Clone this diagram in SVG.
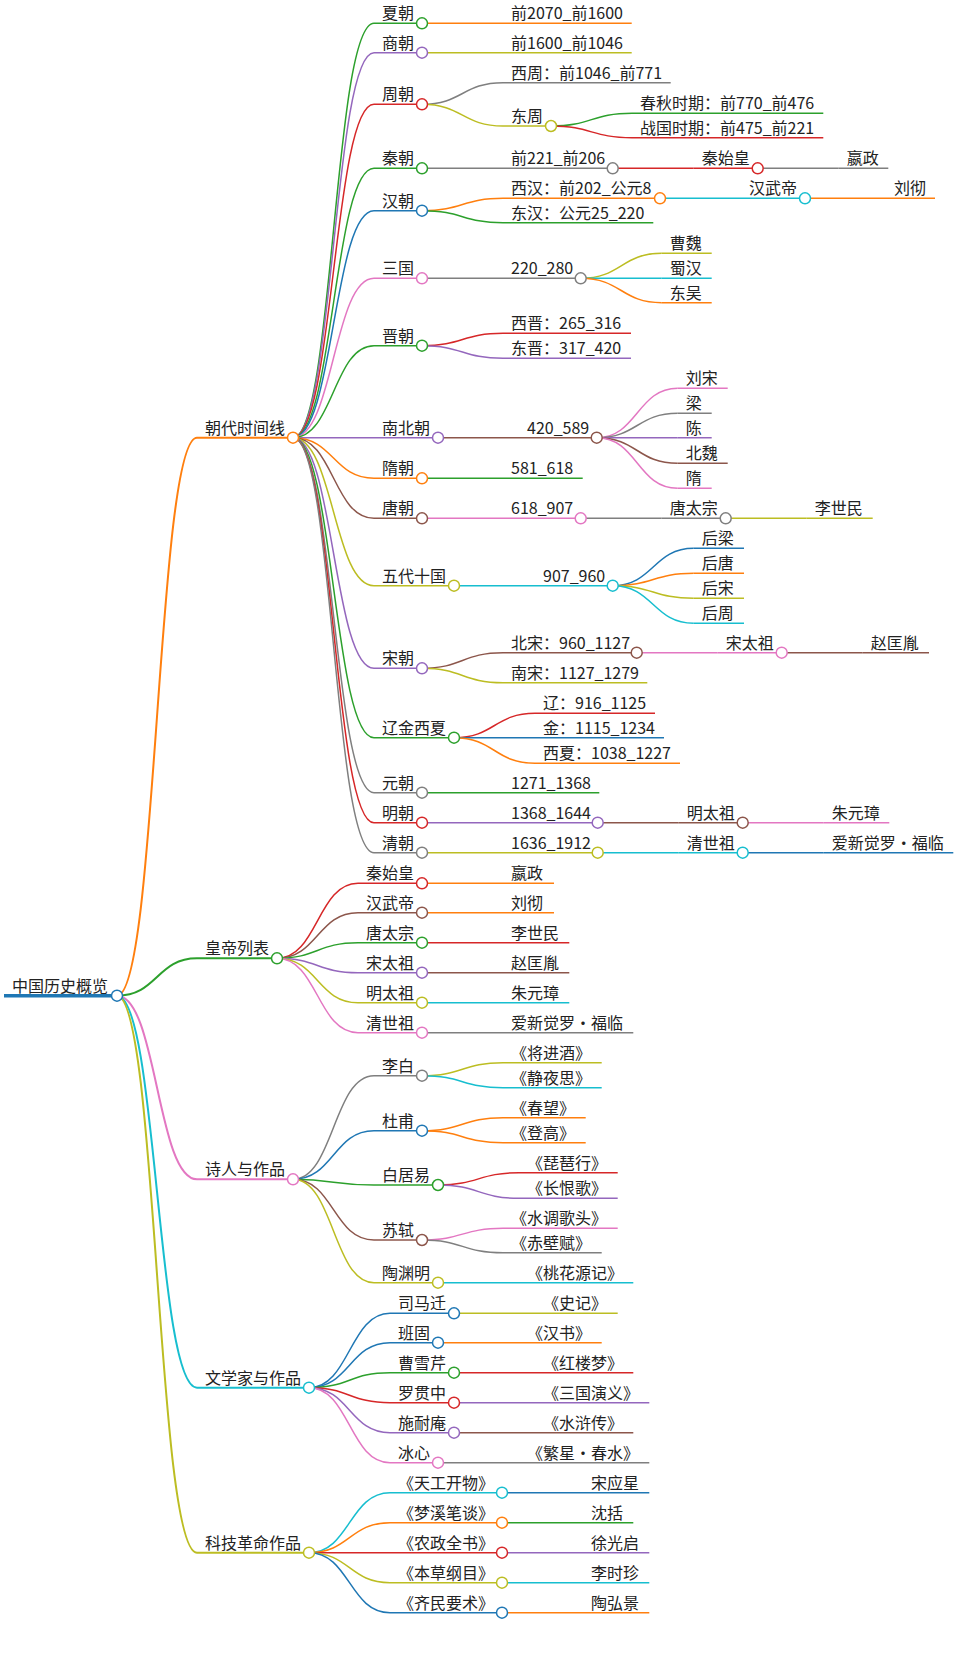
<svg xmlns="http://www.w3.org/2000/svg" width="960" height="1667" viewBox="0 0 960 1667">
<style>
path{fill:none;stroke-width:1.5}
circle{fill:#fff;stroke-width:1.5}
text{font-family:"Noto Sans CJK SC","Noto Sans",sans-serif;font-size:16px;fill:#222}
.w2{stroke-width:2}
.w3{stroke-width:3.5}
.b{stroke:#1f77b4}.o{stroke:#ff7f0e}.g{stroke:#2ca02c}.r{stroke:#d62728}.p{stroke:#9467bd}
.br{stroke:#8c564b}.pk{stroke:#e377c2}.gy{stroke:#7f7f7f}.ol{stroke:#bcbd22}.cy{stroke:#17becf}
</style>
<rect width="960" height="1667" fill="#fff"/>
<g id="connectors">
<path class="o w2" d="M117,995.7C157,995.7 157,437.7 197,437.7"/>
<path class="g w2" d="M117,995.7C157,995.7 157,958.3 197,958.3"/>
<path class="pk w2" d="M117,995.7C157,995.7 157,1179.3 197,1179.3"/>
<path class="cy w2" d="M117,995.7C157,995.7 157,1387.7 197,1387.7"/>
<path class="ol w2" d="M117,995.7C157,995.7 157,1552.7 197,1552.7"/>
<path class="g" d="M293,437.7C333.5,437.7 333.5,23.3 374,23.3"/>
<path class="p" d="M293,437.7C333.5,437.7 333.5,52.7 374,52.7"/>
<path class="r" d="M293,437.7C333.5,437.7 333.5,104.3 374,104.3"/>
<path class="g" d="M293,437.7C333.5,437.7 333.5,168.3 374,168.3"/>
<path class="b" d="M293,437.7C333.5,437.7 333.5,210.7 374,210.7"/>
<path class="pk" d="M293,437.7C333.5,437.7 333.5,278.3 374,278.3"/>
<path class="g" d="M293,437.7C333.5,437.7 333.5,345.7 374,345.7"/>
<path class="p" d="M293,437.7H374"/>
<path class="o" d="M293,437.7C333.5,437.7 333.5,478.3 374,478.3"/>
<path class="br" d="M293,437.7C333.5,437.7 333.5,518.3 374,518.3"/>
<path class="ol" d="M293,437.7C333.5,437.7 333.5,585.7 374,585.7"/>
<path class="p" d="M293,437.7C333.5,437.7 333.5,668.3 374,668.3"/>
<path class="g" d="M293,437.7C333.5,437.7 333.5,737.7 374,737.7"/>
<path class="gy" d="M293,437.7C333.5,437.7 333.5,792.7 374,792.7"/>
<path class="r" d="M293,437.7C333.5,437.7 333.5,822.7 374,822.7"/>
<path class="gy" d="M293,437.7C333.5,437.7 333.5,852.7 374,852.7"/>
<path class="o" d="M422,23.3H503"/>
<path class="ol" d="M422,52.7H503"/>
<path class="gy" d="M422,104.3C462.5,104.3 462.5,82.7 503,82.7"/>
<path class="ol" d="M422,104.3C462.5,104.3 462.5,126 503,126"/>
<path class="g" d="M551,126C591.5,126 591.5,113.3 632,113.3"/>
<path class="r" d="M551,126C591.5,126 591.5,137.7 632,137.7"/>
<path class="gy" d="M422,168.3H503"/>
<path class="r" d="M612.7,168.3H693.7"/>
<path class="gy" d="M757.7,168.3H838.7"/>
<path class="o" d="M422,210.7C462.5,210.7 462.5,198.3 503,198.3"/>
<path class="g" d="M422,210.7C462.5,210.7 462.5,222.7 503,222.7"/>
<path class="cy" d="M660,198.3H741"/>
<path class="o" d="M805,198.3H886"/>
<path class="gy" d="M422,278.3H503"/>
<path class="ol" d="M580.7,278.3C621.2,278.3 621.2,253.3 661.7,253.3"/>
<path class="cy" d="M580.7,278.3H661.7"/>
<path class="o" d="M580.7,278.3C621.2,278.3 621.2,302.7 661.7,302.7"/>
<path class="r" d="M422,345.7C462.5,345.7 462.5,333.3 503,333.3"/>
<path class="p" d="M422,345.7C462.5,345.7 462.5,358.3 503,358.3"/>
<path class="br" d="M438,437.7H519"/>
<path class="pk" d="M596.7,437.7C637.2,437.7 637.2,388.3 677.7,388.3"/>
<path class="gy" d="M596.7,437.7C637.2,437.7 637.2,413.3 677.7,413.3"/>
<path class="p" d="M596.7,437.7H677.7"/>
<path class="br" d="M596.7,437.7C637.2,437.7 637.2,463.3 677.7,463.3"/>
<path class="pk" d="M596.7,437.7C637.2,437.7 637.2,488.3 677.7,488.3"/>
<path class="g" d="M422,478.3H503"/>
<path class="pk" d="M422,518.3H503"/>
<path class="gy" d="M580.7,518.3H661.7"/>
<path class="ol" d="M725.7,518.3H806.7"/>
<path class="cy" d="M454,585.7H535"/>
<path class="b" d="M612.7,585.7C653.2,585.7 653.2,548.3 693.7,548.3"/>
<path class="o" d="M612.7,585.7C653.2,585.7 653.2,573.3 693.7,573.3"/>
<path class="ol" d="M612.7,585.7C653.2,585.7 653.2,598.3 693.7,598.3"/>
<path class="cy" d="M612.7,585.7C653.2,585.7 653.2,623.3 693.7,623.3"/>
<path class="br" d="M422,668.3C462.5,668.3 462.5,652.7 503,652.7"/>
<path class="ol" d="M422,668.3C462.5,668.3 462.5,682.7 503,682.7"/>
<path class="pk" d="M636.7,652.7H717.7"/>
<path class="br" d="M781.7,652.7H862.7"/>
<path class="r" d="M454,737.7C494.5,737.7 494.5,713.3 535,713.3"/>
<path class="b" d="M454,737.7H535"/>
<path class="o" d="M454,737.7C494.5,737.7 494.5,763.3 535,763.3"/>
<path class="g" d="M422,792.7H503"/>
<path class="p" d="M422,822.7H503"/>
<path class="br" d="M597.7,822.7H678.7"/>
<path class="pk" d="M742.7,822.7H823.7"/>
<path class="ol" d="M422,852.7H503"/>
<path class="cy" d="M597.7,852.7H678.7"/>
<path class="b" d="M742.7,852.7H823.7"/>
<path class="r" d="M277,958.3C317.5,958.3 317.5,883.3 358,883.3"/>
<path class="br" d="M277,958.3C317.5,958.3 317.5,912.7 358,912.7"/>
<path class="g" d="M277,958.3C317.5,958.3 317.5,942.7 358,942.7"/>
<path class="p" d="M277,958.3C317.5,958.3 317.5,972.7 358,972.7"/>
<path class="ol" d="M277,958.3C317.5,958.3 317.5,1002.7 358,1002.7"/>
<path class="pk" d="M277,958.3C317.5,958.3 317.5,1032.7 358,1032.7"/>
<path class="o" d="M422,883.3H503"/>
<path class="o" d="M422,912.7H503"/>
<path class="r" d="M422,942.7H503"/>
<path class="br" d="M422,972.7H503"/>
<path class="cy" d="M422,1002.7H503"/>
<path class="gy" d="M422,1032.7H503"/>
<path class="gy" d="M293,1179.3C333.5,1179.3 333.5,1075.7 374,1075.7"/>
<path class="b" d="M293,1179.3C333.5,1179.3 333.5,1130.7 374,1130.7"/>
<path class="g" d="M293,1179.3C333.5,1179.3 333.5,1185 374,1185"/>
<path class="br" d="M293,1179.3C333.5,1179.3 333.5,1240 374,1240"/>
<path class="ol" d="M293,1179.3C333.5,1179.3 333.5,1282.7 374,1282.7"/>
<path class="ol" d="M422,1075.7C462.5,1075.7 462.5,1062.7 503,1062.7"/>
<path class="cy" d="M422,1075.7C462.5,1075.7 462.5,1087.7 503,1087.7"/>
<path class="o" d="M422,1130.7C462.5,1130.7 462.5,1117.7 503,1117.7"/>
<path class="o" d="M422,1130.7C462.5,1130.7 462.5,1142.7 503,1142.7"/>
<path class="r" d="M438,1185C478.5,1185 478.5,1172.7 519,1172.7"/>
<path class="p" d="M438,1185C478.5,1185 478.5,1198.3 519,1198.3"/>
<path class="pk" d="M422,1240C462.5,1240 462.5,1228.3 503,1228.3"/>
<path class="gy" d="M422,1240C462.5,1240 462.5,1252.7 503,1252.7"/>
<path class="cy" d="M438,1282.7H519"/>
<path class="b" d="M309,1387.7C349.5,1387.7 349.5,1313.3 390,1313.3"/>
<path class="b" d="M309,1387.7C349.5,1387.7 349.5,1342.7 390,1342.7"/>
<path class="g" d="M309,1387.7C349.5,1387.7 349.5,1372.7 390,1372.7"/>
<path class="r" d="M309,1387.7C349.5,1387.7 349.5,1402.7 390,1402.7"/>
<path class="p" d="M309,1387.7C349.5,1387.7 349.5,1432.7 390,1432.7"/>
<path class="pk" d="M309,1387.7C349.5,1387.7 349.5,1462.7 390,1462.7"/>
<path class="ol" d="M454,1313.3H535"/>
<path class="o" d="M438,1342.7H519"/>
<path class="r" d="M454,1372.7H535"/>
<path class="p" d="M454,1402.7H535"/>
<path class="br" d="M454,1432.7H535"/>
<path class="gy" d="M438,1462.7H519"/>
<path class="cy" d="M309,1552.7C349.5,1552.7 349.5,1492.7 390,1492.7"/>
<path class="o" d="M309,1552.7C349.5,1552.7 349.5,1522.7 390,1522.7"/>
<path class="r" d="M309,1552.7H390"/>
<path class="ol" d="M309,1552.7C349.5,1552.7 349.5,1582.7 390,1582.7"/>
<path class="b" d="M309,1552.7C349.5,1552.7 349.5,1612.7 390,1612.7"/>
<path class="b" d="M502,1492.7H583"/>
<path class="g" d="M502,1522.7H583"/>
<path class="p" d="M502,1552.7H583"/>
<path class="cy" d="M502,1582.7H583"/>
<path class="o" d="M502,1612.7H583"/>
</g>

<g id="root"><path class="b w3" d="M4,995.7H117"/><circle class="b" cx="117" cy="995.7" r="5.5"/><text x="12" y="991.5">中国历史概览</text></g>

<g id="n-chaodai"><path class="o w2" d="M197,437.7H293"/><circle class="o" cx="293" cy="437.7" r="5.5"/><text x="205" y="433.7">朝代时间线</text></g>
<g id="n-huangdi"><path class="g w2" d="M197,958.3H277"/><circle class="g" cx="277" cy="958.3" r="5.5"/><text x="205" y="954.3">皇帝列表</text></g>
<g id="n-shiren"><path class="pk w2" d="M197,1179.3H293"/><circle class="pk" cx="293" cy="1179.3" r="5.5"/><text x="205" y="1175.3">诗人与作品</text></g>
<g id="n-wenxue"><path class="cy w2" d="M197,1387.7H309"/><circle class="cy" cx="309" cy="1387.7" r="5.5"/><text x="205" y="1383.7">文学家与作品</text></g>
<g id="n-keji"><path class="ol w2" d="M197,1552.7H309"/><circle class="ol" cx="309" cy="1552.7" r="5.5"/><text x="205" y="1548.7">科技革命作品</text></g>

<g id="n-xia"><path class="g" d="M374,23.3H422"/><circle class="g" cx="422" cy="23.3" r="5.5"/><text x="382" y="19.3">夏朝</text></g>
<g id="n-xia-1"><path class="o" d="M503,23.3H631.7"/><text x="511" y="19.3">前2070_前1600</text></g>
<g id="n-shang"><path class="p" d="M374,52.7H422"/><circle class="p" cx="422" cy="52.7" r="5.5"/><text x="382" y="48.7">商朝</text></g>
<g id="n-shang-1"><path class="ol" d="M503,52.7H631.7"/><text x="511" y="48.7">前1600_前1046</text></g>
<g id="n-zhou"><path class="r" d="M374,104.3H422"/><circle class="r" cx="422" cy="104.3" r="5.5"/><text x="382" y="100.3">周朝</text></g>
<g id="n-xizhou"><path class="gy" d="M503,82.7H670.7"/><text x="511" y="78.7">西周：前1046_前771</text></g>
<g id="n-dongzhou"><path class="ol" d="M503,126H551"/><circle class="ol" cx="551" cy="126" r="5.5"/><text x="511" y="122">东周</text></g>
<g id="n-chunqiu"><path class="g" d="M632,113.3H823.3"/><text x="640" y="109.3">春秋时期：前770_前476</text></g>
<g id="n-zhanguo"><path class="r" d="M632,137.7H823.3"/><text x="640" y="133.7">战国时期：前475_前221</text></g>
<g id="n-qin"><path class="g" d="M374,168.3H422"/><circle class="g" cx="422" cy="168.3" r="5.5"/><text x="382" y="164.3">秦朝</text></g>
<g id="n-qin-1"><path class="gy" d="M503,168.3H612.7"/><circle class="gy" cx="612.7" cy="168.3" r="5.5"/><text x="511" y="164.3">前221_前206</text></g>
<g id="n-qin-2"><path class="r" d="M693.7,168.3H757.7"/><circle class="r" cx="757.7" cy="168.3" r="5.5"/><text x="701.7" y="164.3">秦始皇</text></g>
<g id="n-qin-3"><path class="gy" d="M838.7,168.3H888.3"/><text x="846.7" y="164.3">嬴政</text></g>
<g id="n-han"><path class="b" d="M374,210.7H422"/><circle class="b" cx="422" cy="210.7" r="5.5"/><text x="382" y="206.7">汉朝</text></g>
<g id="n-xihan"><path class="o" d="M503,198.3H660"/><circle class="o" cx="660" cy="198.3" r="5.5"/><text x="511" y="194.3">西汉：前202_公元8</text></g>
<g id="n-han-2"><path class="cy" d="M741,198.3H805"/><circle class="cy" cx="805" cy="198.3" r="5.5"/><text x="749" y="194.3">汉武帝</text></g>
<g id="n-han-3"><path class="o" d="M886,198.3H935"/><text x="894" y="194.3">刘彻</text></g>
<g id="n-donghan"><path class="g" d="M503,222.7H653.3"/><text x="511" y="218.7">东汉：公元25_220</text></g>
<g id="n-sanguo"><path class="pk" d="M374,278.3H422"/><circle class="pk" cx="422" cy="278.3" r="5.5"/><text x="382" y="274.3">三国</text></g>
<g id="n-sanguo-1"><path class="gy" d="M503,278.3H580.7"/><circle class="gy" cx="580.7" cy="278.3" r="5.5"/><text x="511" y="274.3">220_280</text></g>
<g id="n-caowei"><path class="ol" d="M661.7,253.3H711.7"/><text x="669.7" y="249.3">曹魏</text></g>
<g id="n-shuhan"><path class="cy" d="M661.7,278.3H711.7"/><text x="669.7" y="274.3">蜀汉</text></g>
<g id="n-dongwu"><path class="o" d="M661.7,302.7H711.7"/><text x="669.7" y="298.7">东吴</text></g>
<g id="n-jin"><path class="g" d="M374,345.7H422"/><circle class="g" cx="422" cy="345.7" r="5.5"/><text x="382" y="341.7">晋朝</text></g>
<g id="n-xijin"><path class="r" d="M503,333.3H631"/><text x="511" y="329.3">西晋：265_316</text></g>
<g id="n-dongjin"><path class="p" d="M503,358.3H631"/><text x="511" y="354.3">东晋：317_420</text></g>
<g id="n-nanbei"><path class="p" d="M374,437.7H438"/><circle class="p" cx="438" cy="437.7" r="5.5"/><text x="382" y="433.7">南北朝</text></g>
<g id="n-nanbei-1"><path class="br" d="M519,437.7H596.7"/><circle class="br" cx="596.7" cy="437.7" r="5.5"/><text x="527" y="433.7">420_589</text></g>
<g id="n-liusong"><path class="pk" d="M677.7,388.3H727.7"/><text x="685.7" y="384.3">刘宋</text></g>
<g id="n-liang"><path class="gy" d="M677.7,413.3H711.7"/><text x="685.7" y="409.3">梁</text></g>
<g id="n-chen"><path class="p" d="M677.7,437.7H711.7"/><text x="685.7" y="433.7">陈</text></g>
<g id="n-beiwei"><path class="br" d="M677.7,463.3H727.7"/><text x="685.7" y="459.3">北魏</text></g>
<g id="n-sui2"><path class="pk" d="M677.7,488.3H711.7"/><text x="685.7" y="484.3">隋</text></g>
<g id="n-sui"><path class="o" d="M374,478.3H422"/><circle class="o" cx="422" cy="478.3" r="5.5"/><text x="382" y="474.3">隋朝</text></g>
<g id="n-sui-1"><path class="g" d="M503,478.3H582.7"/><text x="511" y="474.3">581_618</text></g>
<g id="n-tang"><path class="br" d="M374,518.3H422"/><circle class="br" cx="422" cy="518.3" r="5.5"/><text x="382" y="514.3">唐朝</text></g>
<g id="n-tang-1"><path class="pk" d="M503,518.3H580.7"/><circle class="pk" cx="580.7" cy="518.3" r="5.5"/><text x="511" y="514.3">618_907</text></g>
<g id="n-tang-2"><path class="gy" d="M661.7,518.3H725.7"/><circle class="gy" cx="725.7" cy="518.3" r="5.5"/><text x="669.7" y="514.3">唐太宗</text></g>
<g id="n-tang-3"><path class="ol" d="M806.7,518.3H872.7"/><text x="814.7" y="514.3">李世民</text></g>
<g id="n-wudai"><path class="ol" d="M374,585.7H454"/><circle class="ol" cx="454" cy="585.7" r="5.5"/><text x="382" y="581.7">五代十国</text></g>
<g id="n-wudai-1"><path class="cy" d="M535,585.7H612.7"/><circle class="cy" cx="612.7" cy="585.7" r="5.5"/><text x="543" y="581.7">907_960</text></g>
<g id="n-houliang"><path class="b" d="M693.7,548.3H744"/><text x="701.7" y="544.3">后梁</text></g>
<g id="n-houtang"><path class="o" d="M693.7,573.3H744"/><text x="701.7" y="569.3">后唐</text></g>
<g id="n-housong"><path class="ol" d="M693.7,598.3H744"/><text x="701.7" y="594.3">后宋</text></g>
<g id="n-houzhou"><path class="cy" d="M693.7,623.3H744"/><text x="701.7" y="619.3">后周</text></g>
<g id="n-song"><path class="p" d="M374,668.3H422"/><circle class="p" cx="422" cy="668.3" r="5.5"/><text x="382" y="664.3">宋朝</text></g>
<g id="n-beisong"><path class="br" d="M503,652.7H636.7"/><circle class="br" cx="636.7" cy="652.7" r="5.5"/><text x="511" y="648.7">北宋：960_1127</text></g>
<g id="n-song-2"><path class="pk" d="M717.7,652.7H781.7"/><circle class="pk" cx="781.7" cy="652.7" r="5.5"/><text x="725.7" y="648.7">宋太祖</text></g>
<g id="n-song-3"><path class="br" d="M862.7,652.7H929"/><text x="870.7" y="648.7">赵匡胤</text></g>
<g id="n-nansong"><path class="ol" d="M503,682.7H647.3"/><text x="511" y="678.7">南宋：1127_1279</text></g>
<g id="n-liaojin"><path class="g" d="M374,737.7H454"/><circle class="g" cx="454" cy="737.7" r="5.5"/><text x="382" y="733.7">辽金西夏</text></g>
<g id="n-liao"><path class="r" d="M535,713.3H655"/><text x="543" y="709.3">辽：916_1125</text></g>
<g id="n-jin2"><path class="b" d="M535,737.7H664"/><text x="543" y="733.7">金：1115_1234</text></g>
<g id="n-xixia"><path class="o" d="M535,763.3H680"/><text x="543" y="759.3">西夏：1038_1227</text></g>
<g id="n-yuan"><path class="gy" d="M374,792.7H422"/><circle class="gy" cx="422" cy="792.7" r="5.5"/><text x="382" y="788.7">元朝</text></g>
<g id="n-yuan-1"><path class="g" d="M503,792.7H599.3"/><text x="511" y="788.7">1271_1368</text></g>
<g id="n-ming"><path class="r" d="M374,822.7H422"/><circle class="r" cx="422" cy="822.7" r="5.5"/><text x="382" y="818.7">明朝</text></g>
<g id="n-ming-1"><path class="p" d="M503,822.7H597.7"/><circle class="p" cx="597.7" cy="822.7" r="5.5"/><text x="511" y="818.7">1368_1644</text></g>
<g id="n-ming-2"><path class="br" d="M678.7,822.7H742.7"/><circle class="br" cx="742.7" cy="822.7" r="5.5"/><text x="686.7" y="818.7">明太祖</text></g>
<g id="n-ming-3"><path class="pk" d="M823.7,822.7H889.3"/><text x="831.7" y="818.7">朱元璋</text></g>
<g id="n-qing"><path class="gy" d="M374,852.7H422"/><circle class="gy" cx="422" cy="852.7" r="5.5"/><text x="382" y="848.7">清朝</text></g>
<g id="n-qing-1"><path class="ol" d="M503,852.7H597.7"/><circle class="ol" cx="597.7" cy="852.7" r="5.5"/><text x="511" y="848.7">1636_1912</text></g>
<g id="n-qing-2"><path class="cy" d="M678.7,852.7H742.7"/><circle class="cy" cx="742.7" cy="852.7" r="5.5"/><text x="686.7" y="848.7">清世祖</text></g>
<g id="n-qing-3"><path class="b" d="M823.7,852.7H953.3"/><text x="831.7" y="848.7">爱新觉罗・福临</text></g>

<g id="e-qsh"><path class="r" d="M358,883.3H422"/><circle class="r" cx="422" cy="883.3" r="5.5"/><text x="366" y="879.3">秦始皇</text></g>
<g id="e-qsh-1"><path class="o" d="M503,883.3H554"/><text x="511" y="879.3">嬴政</text></g>
<g id="e-hwd"><path class="br" d="M358,912.7H422"/><circle class="br" cx="422" cy="912.7" r="5.5"/><text x="366" y="908.7">汉武帝</text></g>
<g id="e-hwd-1"><path class="o" d="M503,912.7H554"/><text x="511" y="908.7">刘彻</text></g>
<g id="e-tt"><path class="g" d="M358,942.7H422"/><circle class="g" cx="422" cy="942.7" r="5.5"/><text x="366" y="938.7">唐太宗</text></g>
<g id="e-tt-1"><path class="r" d="M503,942.7H569.3"/><text x="511" y="938.7">李世民</text></g>
<g id="e-st"><path class="p" d="M358,972.7H422"/><circle class="p" cx="422" cy="972.7" r="5.5"/><text x="366" y="968.7">宋太祖</text></g>
<g id="e-st-1"><path class="br" d="M503,972.7H569.3"/><text x="511" y="968.7">赵匡胤</text></g>
<g id="e-mt"><path class="ol" d="M358,1002.7H422"/><circle class="ol" cx="422" cy="1002.7" r="5.5"/><text x="366" y="998.7">明太祖</text></g>
<g id="e-mt-1"><path class="cy" d="M503,1002.7H569.3"/><text x="511" y="998.7">朱元璋</text></g>
<g id="e-qs"><path class="pk" d="M358,1032.7H422"/><circle class="pk" cx="422" cy="1032.7" r="5.5"/><text x="366" y="1028.7">清世祖</text></g>
<g id="e-qs-1"><path class="gy" d="M503,1032.7H633.3"/><text x="511" y="1028.7">爱新觉罗・福临</text></g>

<g id="p-libai"><path class="gy" d="M374,1075.7H422"/><circle class="gy" cx="422" cy="1075.7" r="5.5"/><text x="382" y="1071.7">李白</text></g>
<g id="p-libai-1"><path class="ol" d="M503,1062.7H601.7"/><text x="511" y="1058.7">《将进酒》</text></g>
<g id="p-libai-2"><path class="cy" d="M503,1087.7H601.7"/><text x="511" y="1083.7">《静夜思》</text></g>
<g id="p-dufu"><path class="b" d="M374,1130.7H422"/><circle class="b" cx="422" cy="1130.7" r="5.5"/><text x="382" y="1126.7">杜甫</text></g>
<g id="p-dufu-1"><path class="o" d="M503,1117.7H585.7"/><text x="511" y="1113.7">《春望》</text></g>
<g id="p-dufu-2"><path class="o" d="M503,1142.7H585.7"/><text x="511" y="1138.7">《登高》</text></g>
<g id="p-bai"><path class="g" d="M374,1185H438"/><circle class="g" cx="438" cy="1185" r="5.5"/><text x="382" y="1181">白居易</text></g>
<g id="p-bai-1"><path class="r" d="M519,1172.7H617.7"/><text x="527" y="1168.7">《琵琶行》</text></g>
<g id="p-bai-2"><path class="p" d="M519,1198.3H617.7"/><text x="527" y="1194.3">《长恨歌》</text></g>
<g id="p-su"><path class="br" d="M374,1240H422"/><circle class="br" cx="422" cy="1240" r="5.5"/><text x="382" y="1236">苏轼</text></g>
<g id="p-su-1"><path class="pk" d="M503,1228.3H617.7"/><text x="511" y="1224.3">《水调歌头》</text></g>
<g id="p-su-2"><path class="gy" d="M503,1252.7H601.7"/><text x="511" y="1248.7">《赤壁赋》</text></g>
<g id="p-tao"><path class="ol" d="M374,1282.7H438"/><circle class="ol" cx="438" cy="1282.7" r="5.5"/><text x="382" y="1278.7">陶渊明</text></g>
<g id="p-tao-1"><path class="cy" d="M519,1282.7H633.3"/><text x="527" y="1278.7">《桃花源记》</text></g>

<g id="w-sima"><path class="b" d="M390,1313.3H454"/><circle class="b" cx="454" cy="1313.3" r="5.5"/><text x="398" y="1309.3">司马迁</text></g>
<g id="w-sima-1"><path class="ol" d="M535,1313.3H617.7"/><text x="543" y="1309.3">《史记》</text></g>
<g id="w-ban"><path class="b" d="M390,1342.7H438"/><circle class="b" cx="438" cy="1342.7" r="5.5"/><text x="398" y="1338.7">班固</text></g>
<g id="w-ban-1"><path class="o" d="M519,1342.7H601.7"/><text x="527" y="1338.7">《汉书》</text></g>
<g id="w-cao"><path class="g" d="M390,1372.7H454"/><circle class="g" cx="454" cy="1372.7" r="5.5"/><text x="398" y="1368.7">曹雪芹</text></g>
<g id="w-cao-1"><path class="r" d="M535,1372.7H633.3"/><text x="543" y="1368.7">《红楼梦》</text></g>
<g id="w-luo"><path class="r" d="M390,1402.7H454"/><circle class="r" cx="454" cy="1402.7" r="5.5"/><text x="398" y="1398.7">罗贯中</text></g>
<g id="w-luo-1"><path class="p" d="M535,1402.7H649.3"/><text x="543" y="1398.7">《三国演义》</text></g>
<g id="w-shi"><path class="p" d="M390,1432.7H454"/><circle class="p" cx="454" cy="1432.7" r="5.5"/><text x="398" y="1428.7">施耐庵</text></g>
<g id="w-shi-1"><path class="br" d="M535,1432.7H633.3"/><text x="543" y="1428.7">《水浒传》</text></g>
<g id="w-bing"><path class="pk" d="M390,1462.7H438"/><circle class="pk" cx="438" cy="1462.7" r="5.5"/><text x="398" y="1458.7">冰心</text></g>
<g id="w-bing-1"><path class="gy" d="M519,1462.7H649.3"/><text x="527" y="1458.7">《繁星・春水》</text></g>

<g id="k-tg"><path class="cy" d="M390,1492.7H502"/><circle class="cy" cx="502" cy="1492.7" r="5.5"/><text x="398" y="1488.7">《天工开物》</text></g>
<g id="k-tg-1"><path class="b" d="M583,1492.7H649.3"/><text x="591" y="1488.7">宋应星</text></g>
<g id="k-mx"><path class="o" d="M390,1522.7H502"/><circle class="o" cx="502" cy="1522.7" r="5.5"/><text x="398" y="1518.7">《梦溪笔谈》</text></g>
<g id="k-mx-1"><path class="g" d="M583,1522.7H633.3"/><text x="591" y="1518.7">沈括</text></g>
<g id="k-nz"><path class="r" d="M390,1552.7H502"/><circle class="r" cx="502" cy="1552.7" r="5.5"/><text x="398" y="1548.7">《农政全书》</text></g>
<g id="k-nz-1"><path class="p" d="M583,1552.7H649.3"/><text x="591" y="1548.7">徐光启</text></g>
<g id="k-bc"><path class="ol" d="M390,1582.7H502"/><circle class="ol" cx="502" cy="1582.7" r="5.5"/><text x="398" y="1578.7">《本草纲目》</text></g>
<g id="k-bc-1"><path class="cy" d="M583,1582.7H649.3"/><text x="591" y="1578.7">李时珍</text></g>
<g id="k-qm"><path class="b" d="M390,1612.7H502"/><circle class="b" cx="502" cy="1612.7" r="5.5"/><text x="398" y="1608.7">《齐民要术》</text></g>
<g id="k-qm-1"><path class="o" d="M583,1612.7H649.3"/><text x="591" y="1608.7">陶弘景</text></g>
</svg>
